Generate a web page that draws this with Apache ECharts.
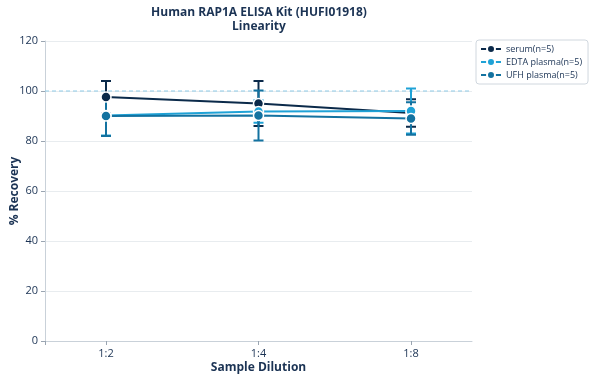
<!DOCTYPE html>
<html><head><meta charset="utf-8">
<script src="https://cdn.jsdelivr.net/npm/echarts@6/dist/echarts.min.js"></script>
<style>html,body{margin:0;padding:0;background:#fff}#c{width:590px;height:380px}</style>
</head><body><div id="c"></div>
<script>
const categories = ['1:2', '1:4', '1:8'];
const seriesNames = ['serum(n=5)', 'EDTA plasma(n=5)', 'UFH plasma(n=5)'];
const serum = [97.6, 95.0, 91.2];
const serumErr = [6.4, 9.0, 5.5];
const edta = [90.2, 91.8, 92.0];
const edtaErr = [8.0, 4.5, 9.0];
const ufh = [90.0, 90.2, 89.0];
const ufhErr = [8.0, 10.0, 6.5];
const yTicks = [0, 20, 40, 60, 80, 100, 120];
const referenceLevel = 100;
const colors = ['#0b2a4a', '#1fa2d6', '#1372a0'];

const font = 'Open Sans';
const values = [serum, edta, ufh];
const errs = [serumErr, edtaErr, ufhErr];
const idx = categories.map((c, i) => i);
const xMin = -0.4, xMax = 2.4;

const series = [];
values.forEach((v, s) => {
  series.push({
    type: 'line',
    name: seriesNames[s],
    z: 3,
    data: idx.map(i => [i, v[i]]),
    symbol: 'circle',
    symbolSize: 10,
    lineStyle: { color: colors[s], width: 2 },
    itemStyle: { color: colors[s], borderColor: '#fff', borderWidth: 1.5 }
  });
});
values.forEach((v, s) => {
  series.push({
    type: 'custom',
    name: seriesNames[s],
    z: 2,
    silent: true,
    data: idx.map(i => [i, v[i] - errs[s][i], v[i] + errs[s][i]]),
    renderItem: function (params, api) {
      const lo = api.coord([api.value(0), api.value(1)]);
      const hi = api.coord([api.value(0), api.value(2)]);
      const w = 5;
      const st = { stroke: colors[s], lineWidth: 2 };
      return { type: 'group', children: [
        { type: 'line', shape: { x1: lo[0], y1: lo[1], x2: hi[0], y2: hi[1] }, style: st },
        { type: 'line', shape: { x1: lo[0] - w, y1: lo[1], x2: lo[0] + w, y2: lo[1] }, style: st },
        { type: 'line', shape: { x1: hi[0] - w, y1: hi[1], x2: hi[0] + w, y2: hi[1] }, style: st }
      ]};
    }
  });
});
series.push({
  type: 'line', name: 'ref', z: 1, silent: true, symbol: 'none',
  data: [[xMin, referenceLevel], [xMax, referenceLevel]],
  lineStyle: { color: '#8ecae6', type: [4, 3], width: 1 }
});

const chart = echarts.init(document.getElementById('c'));
chart.setOption({
  animation: false,
  color: colors,
  title: {
    text: 'Human RAP1A ELISA Kit (HUFI01918)\nLinearity',
    left: 259, top: 6, textAlign: 'center', padding: 0,
    textStyle: { fontFamily: font, fontSize: 12, fontWeight: 'bold', color: '#1b3354', lineHeight: 14 }
  },
  legend: {
    data: seriesNames,
    orient: 'vertical',
    left: 476, top: 40,
    padding: [4, 6, 4, 4],
    itemGap: 3,
    itemWidth: 20, itemHeight: 10,
    borderColor: '#d0d7de', borderWidth: 1, borderRadius: 3,
    textStyle: { fontFamily: font, fontSize: 9, color: '#1b3354' }
  },
  grid: { left: 45, right: 118, top: 41, bottom: 39, outerBoundsMode: 'none', containLabel: false },
  xAxis: {
    type: 'value', min: xMin, max: xMax,
    name: 'Sample Dilution', nameLocation: 'middle', nameGap: 21, nameMoveOverlap: false,
    nameTextStyle: { fontFamily: font, fontSize: 12, fontWeight: 'bold', color: '#1b3354' },
    axisLine: { show: true, onZero: false, lineStyle: { color: '#c9d1d9' } },
    axisTick: { show: true, customValues: [xMin, 0, 1, 2], length: 4, lineStyle: { color: '#9aa5b1' } },
    axisLabel: { customValues: [0, 1, 2], formatter: v => categories[Math.round(v)] || '', fontFamily: font, fontSize: 11, color: '#1b3354', margin: 7 },
    splitLine: { show: false }
  },
  yAxis: {
    type: 'value', min: 0, max: 120, interval: 20,
    name: '% Recovery', nameLocation: 'middle', nameGap: 24, nameMoveOverlap: false,
    nameTextStyle: { fontFamily: font, fontSize: 12, fontWeight: 'bold', color: '#1b3354' },
    axisLine: { show: true, onZero: false, lineStyle: { color: '#c9d1d9' } },
    axisTick: { show: true, length: 4, lineStyle: { color: '#9aa5b1' } },
    axisLabel: { fontFamily: font, fontSize: 11, color: '#1b3354', margin: 7, formatter: v => yTicks.includes(v) ? String(v) : '' },
    splitLine: { show: true, lineStyle: { color: '#e8ecef' } }
  },
  series: series
});
</script></body></html>
